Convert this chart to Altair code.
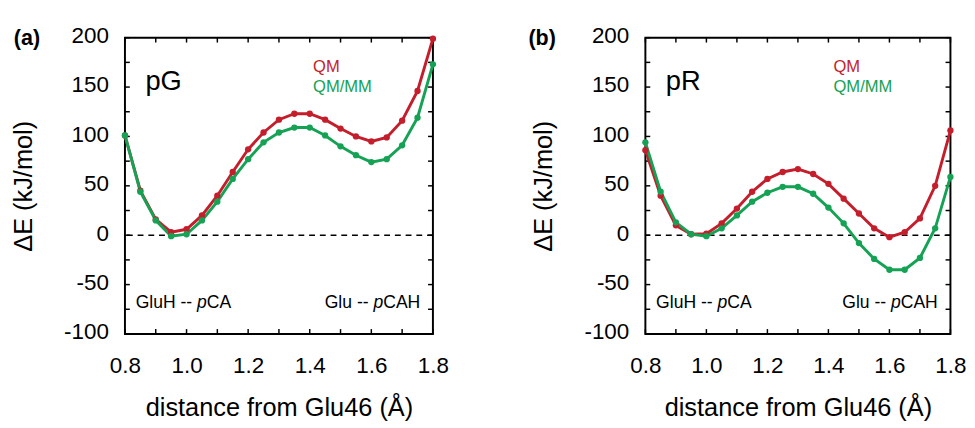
import altair as alt
import pandas as pd

# ---------------- data ----------------
distance = [0.80, 0.85, 0.90, 0.95, 1.00, 1.05, 1.10, 1.15, 1.20, 1.25, 1.30,
            1.35, 1.40, 1.45, 1.50, 1.55, 1.60, 1.65, 1.70, 1.75, 1.80]

pg_qm = [101, 45, 16, 3, 6, 20, 40, 64, 87, 104, 117, 123, 123, 117, 108, 100, 95, 99, 116, 146, 199]
pg_qmmm = [101, 44, 15, -1, 1, 15, 34, 57, 77, 94, 104, 109, 109, 101, 90, 81, 74, 77, 91, 119, 173]

pr_qm = [86, 40, 10, 1, 1.5, 12, 27, 44, 57, 64, 67, 62, 52, 37, 22, 7, -2, 3, 17, 50, 106]
pr_qmmm = [94, 44, 13, 1, -1, 7, 20, 34, 43, 49, 49, 42, 28, 12, -8, -24, -35, -35, -23, 7, 59]

methods = ["QM", "QM/MM"]
x_label_values = [0.8, 1.0, 1.2, 1.4, 1.6, 1.8]
y_label_values = [-100, -50, 0, 50, 100, 150, 200]
x_tick_values = [0.8, 0.9, 1.0, 1.1, 1.2, 1.3, 1.4, 1.5, 1.6, 1.7, 1.8]
y_tick_values = [-100, -75, -50, -25, 0, 25, 50, 75, 100, 125, 150, 175, 200]

RED = "#C41E2D"
GREEN = "#15A255"
FONT = "Liberation Sans"
H = 304
TICK = 5


def txt(text, x, y, size, color="black", align="left", style="normal", weight="normal"):
    return alt.Chart(pd.DataFrame({"k": [0]})).mark_text(
        text=text, font=FONT, fontSize=size, color=color, align=align,
        baseline="alphabetic", fontStyle=style, fontWeight=weight
    ).encode(x=alt.value(x), y=alt.value(y))


def panel(tag, tag_x, name, qm, qmmm, W):
    xs = alt.Scale(domain=[0.8, 1.8], nice=False, zero=False)
    ys = alt.Scale(domain=[-100, 200], nice=False, zero=False)
    xaxis = alt.Axis(values=x_label_values, format=".1f", title="distance from Glu46 (Å)",
                     labelPadding=22, titlePadding=18, labelFlush=False)
    yaxis = alt.Axis(values=y_label_values, title="ΔE (kJ/mol)", labelPadding=17,
                     titlePadding=28, labelFlush=False, labelOffset=-2,
                     labelExpr="toString(datum.value)")
    X = alt.X("d:Q", scale=xs, axis=xaxis)
    Y = alt.Y("e:Q", scale=ys, axis=yaxis)

    df = pd.DataFrame({
        "d": distance + distance,
        "e": qm + qmmm,
        "m": [methods[0]] * len(distance) + [methods[1]] * len(distance),
    })
    color = alt.Color("m:N", scale=alt.Scale(domain=methods, range=[RED, GREEN]), legend=None)

    base = alt.Chart(df).encode(x=X, y=Y, color=color)
    lines = base.mark_line(strokeWidth=3)
    pts = base.mark_circle(size=42, opacity=1)

    zero = alt.Chart(pd.DataFrame({"e": [0]})).mark_rule(
        color="black", strokeWidth=1.6, strokeDash=[6, 5]
    ).encode(y=Y)

    xt = pd.DataFrame({"d": x_tick_values})
    yt = pd.DataFrame({"e": y_tick_values})
    tb = alt.Chart(xt).mark_rule(color="black", strokeWidth=1.5).encode(
        x=X, y=alt.value(H), y2=alt.value(H - TICK))
    tt = alt.Chart(xt).mark_rule(color="black", strokeWidth=1.5).encode(
        x=X, y=alt.value(0), y2=alt.value(TICK))
    tl = alt.Chart(yt).mark_rule(color="black", strokeWidth=1.5).encode(
        y=Y, x=alt.value(0), x2=alt.value(TICK))
    tr = alt.Chart(yt).mark_rule(color="black", strokeWidth=1.5).encode(
        y=Y, x=alt.value(W), x2=alt.value(W - TICK))

    fs = 18
    w_p = 0.556 * fs
    # "GluH -- pCA" left part
    l1 = 11
    w1 = (0.778 + 0.222 + 0.556 + 0.722 + 0.278 + 0.333 + 0.333 + 0.278) * fs
    # "Glu -- pCAH" right-anchored at W - 13
    w_glu = (0.778 + 0.222 + 0.556 + 0.278 + 0.333 + 0.333 + 0.278) * fs
    w_cah = (0.722 + 0.667 + 0.722) * fs
    l2 = W - 13 - (w_glu + w_p + w_cah)
    texts = [
        txt(tag, tag_x, 8, 22, weight="bold"),
        txt(name, 21, 54, 28),
        txt("QM", 193, 35, 17, color=RED),
        txt("QM/MM", 193, 56, 17, color=GREEN),
        txt("GluH -- ", l1, 277, fs),
        txt("p", l1 + w1, 277, fs, style="italic"),
        txt("CA", l1 + w1 + w_p, 277, fs),
        txt("Glu -- ", l2, 277, fs),
        txt("p", l2 + w_glu, 277, fs, style="italic"),
        txt("CAH", l2 + w_glu + w_p, 277, fs),
    ]
    return alt.layer(zero, tb, tt, tl, tr, lines, pts, *texts).properties(width=W, height=H)


a = panel("(a)", -114, "pG", pg_qm, pg_qmmm, 316)
b = panel("(b)", -120, "pR", pr_qm, pr_qmmm, 313)

chart = alt.hconcat(a, b, spacing=218, bounds="flush").properties(
    padding={"left": 1, "top": 11, "right": 0, "bottom": 0}
).configure_view(stroke="black", strokeWidth=2).configure_axis(
    grid=False, domain=False, ticks=False,
    labelFont=FONT, labelFontSize=23, labelColor="black",
    titleFont=FONT, titleFontSize=26, titleFontWeight="normal", titleColor="black",
)

chart.save("out.html", embed_options={"renderer": "svg", "actions": False})
